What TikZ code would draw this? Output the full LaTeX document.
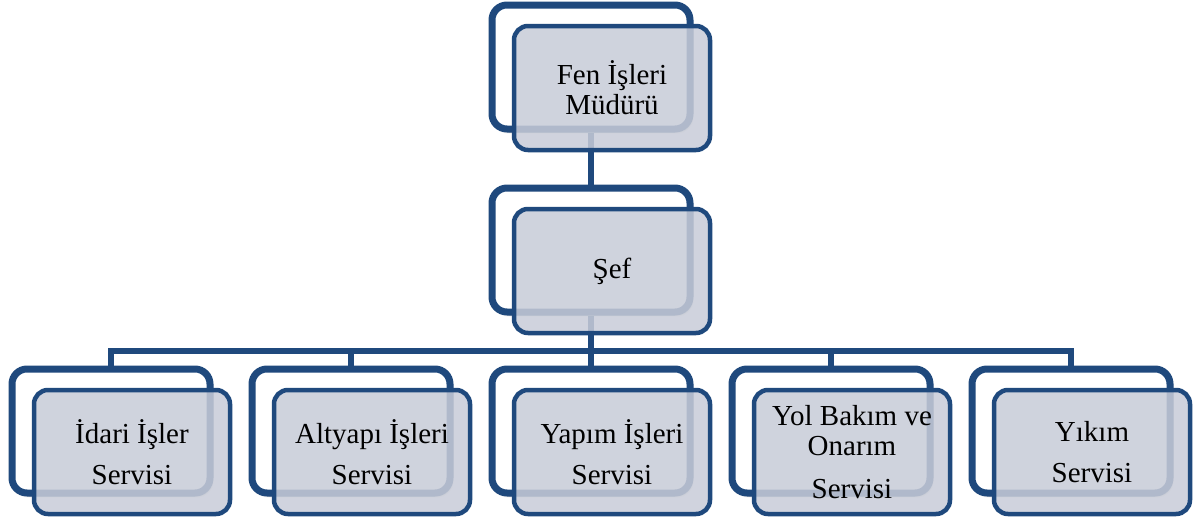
\documentclass[tikz,border=0pt]{standalone}
\usepackage{fontspec}
\setmainfont{Liberation Serif}
\usetikzlibrary{shadows.blur}
\definecolor{navy}{HTML}{1F497D}
\definecolor{panel}{HTML}{C8CCD8}
\tikzset{
  backbox/.style={draw=navy, line width=7pt, fill=white, rounded corners=15pt,
    minimum width=198pt, minimum height=124pt,
    blur shadow={shadow xshift=2pt, shadow yshift=-3pt, shadow blur steps=6, shadow opacity=35}},
  frontbox/.style={draw=navy, line width=4.5pt, fill=panel, fill opacity=0.86, text opacity=1,
    rounded corners=14pt, minimum width=196pt, minimum height=124pt,
    align=center, font=\fontsize{29}{30}\selectfont},
  conn/.style={draw=navy, line width=5.5pt}
}
\begin{document}
\begin{tikzpicture}[x=1pt,y=-1pt]
\useasboundingbox (0,0) rectangle (1200,522);
\coordinate (pb0) at (591,67);
\coordinate (pb1) at (591,250);
\coordinate (j) at (591,351);
% invisible placeholders for the back boxes, so the connectors lie under them
\node[backbox, draw=none, fill=none, blur shadow={shadow opacity=0}] (b0) at (pb0) {};
\node[backbox, draw=none, fill=none, blur shadow={shadow opacity=0}] (b1) at (pb1) {};
\foreach \i/\x in {1/111,2/351,3/591,4/831,5/1071}{
  \node[backbox, draw=none, fill=none, blur shadow={shadow opacity=0}] (c\i) at (\x,431) {};
}
\draw[conn] (b0.south) -- (b1.north);
\draw[conn] (b1.south) -- (j);
\foreach \i in {1,...,5}{ \draw[conn] (j) -| (c\i.north); }
% back boxes
\node[backbox] (bb0) at (b0) {};
\node[backbox] (bb1) at (b1) {};
\foreach \i in {1,...,5}{ \node[backbox] (bc\i) at (c\i) {}; }
% front boxes
\node[frontbox] (f0) at ([shift={(21,21)}]b0.center) {Fen İşleri\\Müdürü};
\node[frontbox] (f1) at ([shift={(21,21)}]b1.center) {Şef};
\node[frontbox] (g1) at ([shift={(21,21)}]c1.center) {İdari İşler\\[11pt]Servisi};
\node[frontbox] (g2) at ([shift={(21,21)}]c2.center) {Altyapı İşleri\\[11pt]Servisi};
\node[frontbox] (g3) at ([shift={(21,21)}]c3.center) {Yapım İşleri\\[11pt]Servisi};
\node[frontbox] (g4) at ([shift={(21,21)}]c4.center) {Yol Bakım ve\\Onarım\\[13pt]Servisi};
\node[frontbox] (g5) at ([shift={(21,21)}]c5.center) {Yıkım\\[11pt]Servisi};
\end{tikzpicture}
\end{document}
